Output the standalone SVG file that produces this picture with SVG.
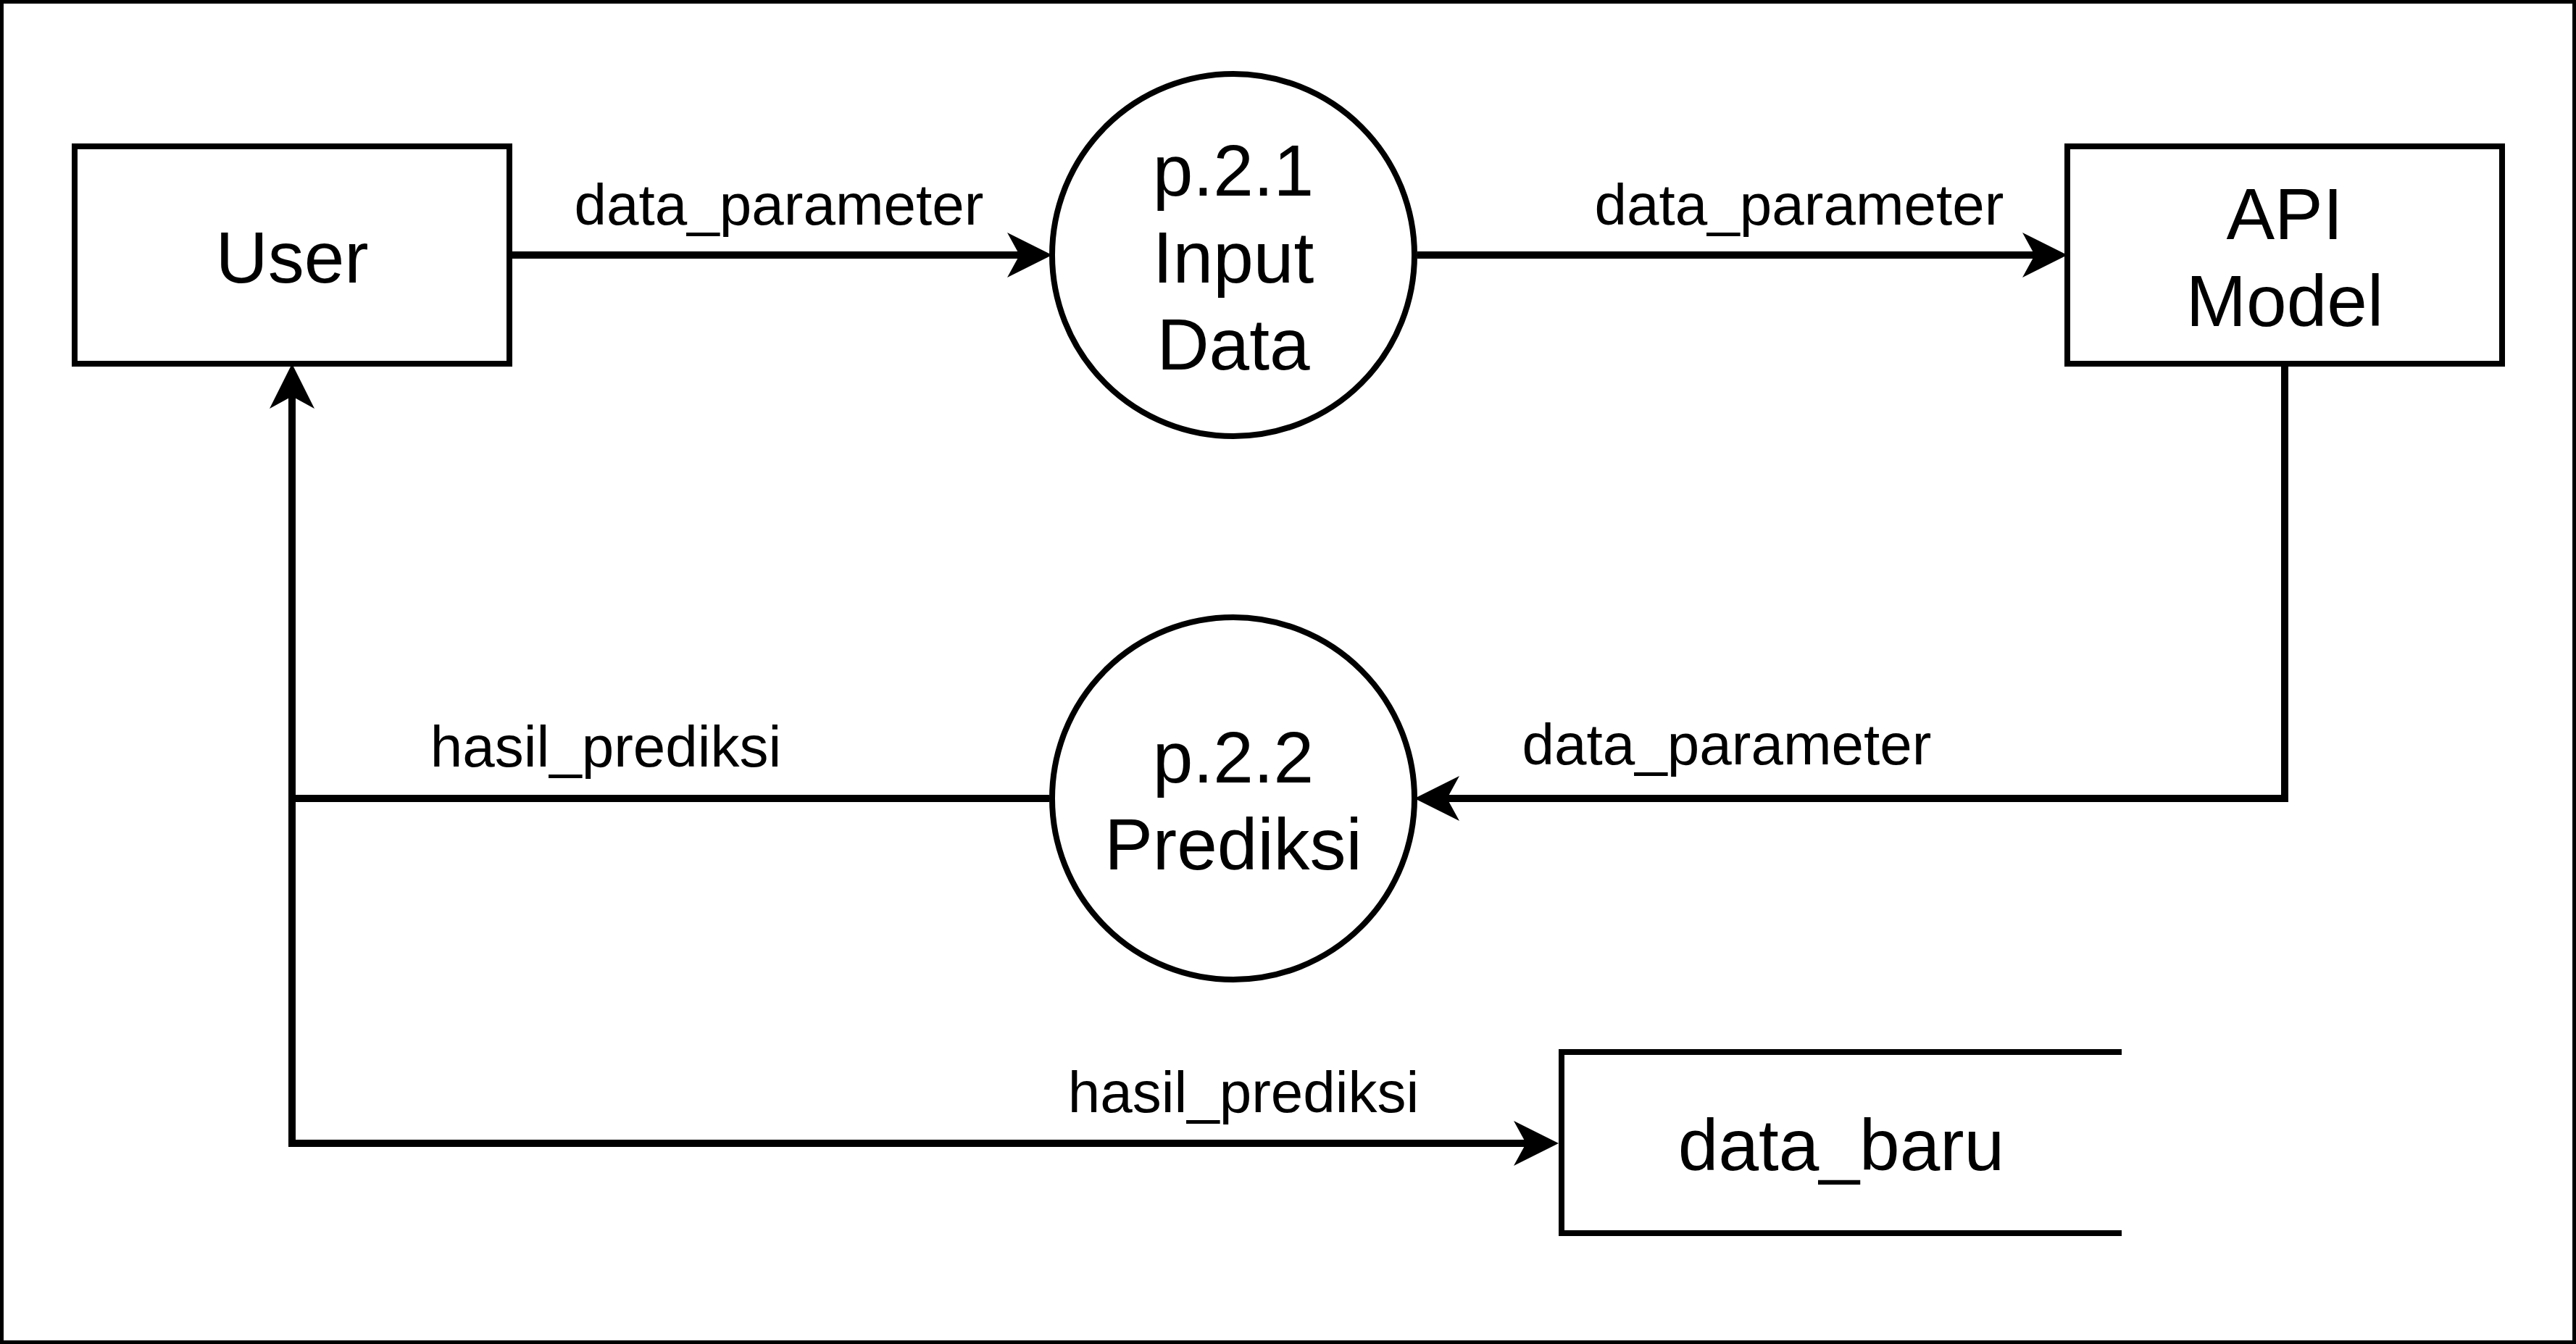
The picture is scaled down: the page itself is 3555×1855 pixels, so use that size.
<svg xmlns="http://www.w3.org/2000/svg" width="3555" height="1855" viewBox="0 0 3555 1855">
  <style>
    .shape { fill: #ffffff; stroke: #000000; stroke-width: 8; }
    .open { fill: none; stroke: #000000; stroke-width: 8; }
    .conn { fill: none; stroke: #000000; stroke-width: 10; }
    .node-text { font-family: "Liberation Sans", Arial, Helvetica, sans-serif; font-size: 100px; fill: #000000; text-anchor: middle; }
    .label { font-family: "Liberation Sans", Arial, Helvetica, sans-serif; font-size: 80px; fill: #000000; text-anchor: middle; }
  </style>
  <defs>
    <marker id="arrow" viewBox="-17 -31 62 62" markerWidth="62" markerHeight="62" refX="0" refY="0" orient="auto" markerUnits="userSpaceOnUse">
      <path d="M45,0 L-17,-31 L0,0 L-17,31 Z" fill="#000000"/>
    </marker>
  </defs>
  <rect x="0" y="0" width="3555" height="1855" fill="#ffffff"/>
  <rect x="2.5" y="2.5" width="3550" height="1850" fill="none" stroke="#000000" stroke-width="5"/>

  <g id="connectors">
    <path class="conn" d="M707,352 H1407" marker-end="url(#arrow)"/>
    <path class="conn" d="M1956,352 H2808" marker-end="url(#arrow)"/>
    <path class="conn" d="M3153,506 V1102 H1997" marker-end="url(#arrow)"/>
    <path class="conn" d="M1448,1102 H403 V547" marker-end="url(#arrow)"/>
    <path class="conn" d="M403,1102 V1578 H2106" marker-end="url(#arrow)"/>
    <text class="label" x="1075" y="310">data_parameter</text>
    <text class="label" x="2483" y="310">data_parameter</text>
    <text class="label" x="2383" y="1055">data_parameter</text>
    <text class="label" x="836" y="1058">hasil_prediksi</text>
    <text class="label" x="1716" y="1535">hasil_prediksi</text>
  </g>

  <g id="user">
    <rect class="shape" x="103" y="202" width="600" height="300"/>
    <text class="node-text" x="403" y="390">User</text>
  </g>

  <g id="p21">
    <circle class="shape" cx="1702" cy="352" r="250"/>
    <text class="node-text" x="1702" y="270">p.2.1</text>
    <text class="node-text" x="1702" y="390">Input</text>
    <text class="node-text" x="1702" y="510">Data</text>
  </g>

  <g id="api-model">
    <rect class="shape" x="2853" y="202" width="600" height="300"/>
    <text class="node-text" x="3153" y="330">API</text>
    <text class="node-text" x="3153" y="450">Model</text>
  </g>

  <g id="p22">
    <circle class="shape" cx="1702" cy="1102" r="250"/>
    <text class="node-text" x="1702" y="1080">p.2.2</text>
    <text class="node-text" x="1702" y="1200">Prediksi</text>
  </g>

  <g id="data-baru">
    <rect x="2155" y="1452" width="773" height="250" fill="#ffffff" stroke="none"/>
    <path class="open" d="M2928,1452 H2155 V1702 H2928"/>
    <text class="node-text" x="2541" y="1615">data_baru</text>
  </g>
</svg>
